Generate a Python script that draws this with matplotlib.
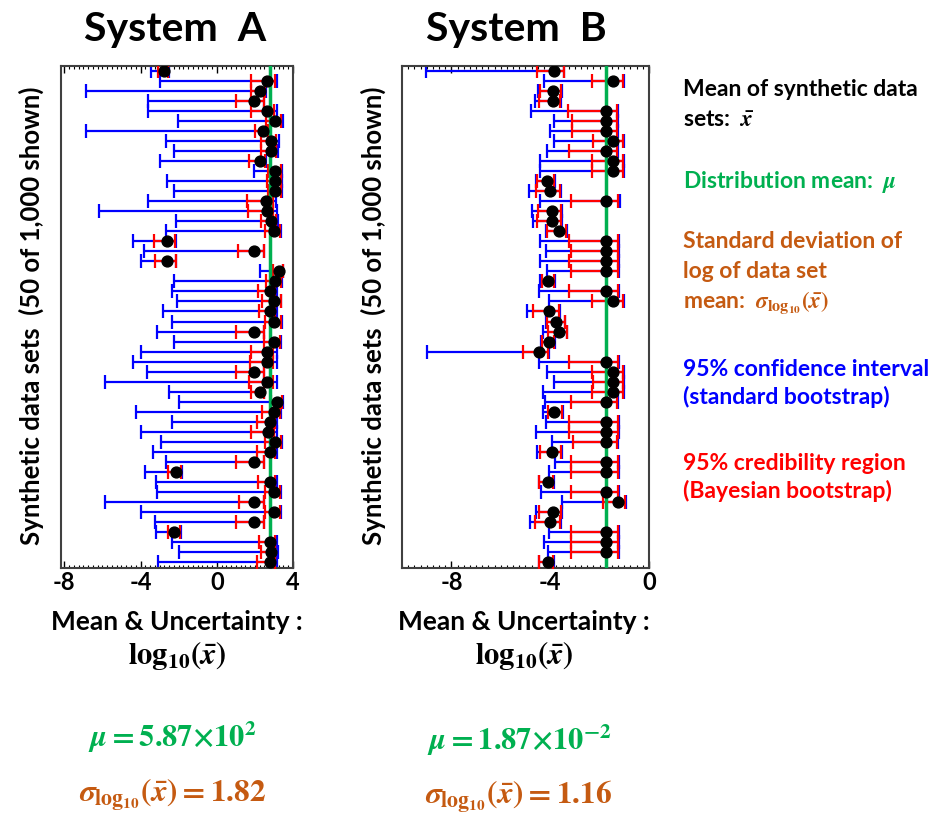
import numpy as np
import matplotlib
matplotlib.use("Agg")
import matplotlib.pyplot as plt
from matplotlib.ticker import MultipleLocator

plt.rcParams["font.family"] = ["Lato", "DejaVu Sans"]
plt.rcParams["font.weight"] = "bold"
plt.rcParams["axes.unicode_minus"] = False
plt.rcParams["mathtext.fontset"] = "custom"
plt.rcParams["mathtext.rm"] = "STIXGeneral:bold"
plt.rcParams["mathtext.it"] = "STIXGeneral:italic:bold"
plt.rcParams["mathtext.bf"] = "STIXGeneral:bold"

# System A: log10 of data set mean, 95% CI (standard bootstrap), 95% CR (Bayesian bootstrap)
a_mean = [-2.75, 2.65, 2.29, 1.95, 2.65, 3.03, 2.43, 2.83, 2.83, 2.29,
          3.07, 3.03, 3.03, 2.60, 2.65, 2.83, 2.98, -2.59, 1.95, -2.59,
          3.24, 3.03, 2.77, 2.98, 2.77, 3.00, 1.95, 3.00, 2.62, 2.62,
          1.95, 2.63, 2.27, 3.17, 2.98, 2.77, 2.69, 3.03, 2.77, 1.95,
          -2.14, 2.77, 3.00, 1.95, 2.98, 1.95, -2.23, 2.77, 2.83, 2.77]
a_ci_lo = [-3.44, -2.97, -6.86, -3.62, -3.62, -2.02, -6.86, -2.66, -2.24, -2.97,
           1.95, -2.63, -2.24, -3.62, -6.20, -2.16, -2.66, -4.37, -3.81, -3.98,
           2.29, -2.24, -2.33, -2.10, -2.80, -2.36, -3.15, -2.24, -3.97, -4.37,
           -3.67, -5.85, -2.49, -1.98, -4.23, -2.33, -3.97, -2.92, -3.32, -2.68,
           -3.79, -3.20, -3.15, -5.88, -3.98, -3.24, -3.20, -2.33, -1.98, -3.06]
a_ci_hi = [-2.50, 3.17, 2.58, 2.48, 3.16, 3.45, 2.71, 3.26, 3.21, 2.60,
           3.42, 3.42, 3.40, 3.12, 3.16, 3.21, 3.38, -2.14, 2.48, -2.14,
           3.50, 3.42, 3.17, 3.38, 3.17, 3.42, 2.48, 3.38, 3.16, 3.16,
           2.50, 3.16, 2.48, 3.47, 3.38, 3.17, 3.16, 3.43, 3.17, 2.48,
           -1.84, 3.17, 3.38, 2.48, 3.38, 2.48, -1.88, 3.17, 3.21, 3.17]
a_cr_lo = [-3.11, 1.82, 1.78, 1.00, 1.82, 2.60, 1.99, 2.34, 2.30, 1.69,
           2.69, 2.65, 2.69, 1.61, 1.64, 2.34, 2.55, -3.29, 1.12, -3.24,
           2.95, 2.60, 2.16, 2.37, 2.20, 2.51, 1.03, 2.48, 1.82, 1.76,
           1.00, 1.68, 1.78, 2.86, 2.37, 2.11, 1.82, 2.55, 2.11, 1.00,
           -2.54, 2.16, 2.51, 1.15, 2.55, 1.00, -2.57, 2.20, 2.30, 2.11]
a_cr_hi = [-2.54, 3.03, 2.55, 2.46, 3.00, 3.35, 2.69, 3.12, 3.12, 2.55,
           3.38, 3.38, 3.35, 2.95, 2.95, 3.09, 3.30, -2.19, 2.46, -2.16,
           3.47, 3.35, 3.07, 3.35, 3.03, 3.35, 2.46, 3.33, 2.95, 2.95,
           2.48, 2.95, 2.46, 3.43, 3.30, 3.03, 2.98, 3.35, 3.07, 2.46,
           -1.88, 3.03, 3.33, 2.46, 3.33, 2.46, -1.93, 3.03, 3.07, 3.07]

# System B
b_mean = [-3.83, -1.44, -3.90, -3.90, -1.75, -1.75, -1.75, -1.44, -1.75, -1.44,
          -1.44, -4.11, -4.00, -1.75, -3.91, -3.91, -3.63, -1.75, -1.75, -1.75,
          -1.75, -4.07, -1.75, -1.44, -4.03, -3.76, -3.63, -4.04, -4.45, -1.75,
          -1.44, -1.44, -1.44, -1.75, -3.84, -1.75, -1.75, -1.75, -3.91, -1.75,
          -1.75, -4.10, -1.75, -1.27, -3.90, -4.00, -1.75, -1.75, -1.75, -4.10]
b_ci_lo = [-9.02, -4.25, -4.50, -4.61, -4.77, -3.84, -4.00, -3.84, -4.14, -4.43,
           -4.41, -4.57, -4.85, -4.41, -4.74, -4.70, -4.18, -4.43, -4.18, -4.43,
           -4.14, -4.41, -4.47, -4.04, -4.95, -4.18, -4.30, -4.37, -8.99, -4.47,
           -4.14, -3.83, -4.31, -4.23, -4.30, -4.17, -4.58, -3.91, -4.54, -3.80,
           -4.03, -4.47, -4.38, -3.53, -4.57, -4.81, -4.04, -4.27, -4.10, -4.47]
b_ci_hi = [-3.44, -1.00, -3.53, -3.57, -1.24, -1.24, -1.24, -1.00, -1.24, -1.00,
           -1.00, -3.80, -3.57, -1.17, -3.53, -3.53, -3.33, -1.21, -1.21, -1.21,
           -1.21, -3.80, -1.21, -1.00, -3.60, -3.40, -3.30, -3.80, -4.03, -1.21,
           -1.00, -1.00, -1.00, -1.24, -3.50, -1.21, -1.21, -1.24, -3.53, -1.21,
           -1.21, -3.84, -1.21, -0.93, -3.53, -3.57, -1.21, -1.21, -1.21, -3.84]
b_cr_lo = [-4.54, -2.32, -4.41, -4.45, -3.26, -3.13, -3.10, -2.28, -3.22, -2.29,
           -2.29, -4.52, -4.58, -3.15, -4.50, -4.52, -4.14, -3.24, -3.15, -3.24,
           -3.15, -4.34, -3.24, -2.29, -4.68, -4.14, -4.10, -4.34, -5.12, -3.22,
           -2.29, -2.28, -2.29, -3.15, -4.10, -3.22, -3.22, -3.09, -4.41, -3.15,
           -3.15, -4.45, -3.15, -1.85, -4.47, -4.61, -3.15, -3.15, -3.15, -4.45]
b_cr_hi = [-3.46, -1.04, -3.57, -3.60, -1.31, -1.28, -1.28, -1.04, -1.28, -1.04,
           -1.04, -3.84, -3.60, -1.24, -3.57, -3.57, -3.36, -1.27, -1.27, -1.27,
           -1.27, -3.83, -1.27, -1.04, -3.64, -3.42, -3.33, -3.84, -4.07, -1.27,
           -1.04, -1.04, -1.04, -1.28, -3.53, -1.27, -1.27, -1.28, -3.57, -1.27,
           -1.27, -3.87, -1.27, -0.97, -3.57, -3.60, -1.27, -1.27, -1.27, -3.87]

mu_a, sd_a = 5.87e2, 1.82
mu_b, sd_b = 1.87e-2, 1.16

BLUE = "#0000ff"
RED = "#ff0000"
GREEN = "#00b050"
BROWN = "#c55a11"

W, H = 937, 823
fig = plt.figure(figsize=(W / 100, H / 100), dpi=100)


def rect(x0, y0, x1, y1):
    return [x0 / W, 1 - y1 / H, (x1 - x0) / W, (y1 - y0) / H]


def txt(x, y, s, **kw):
    fig.text(x / W, 1 - y / H, s, ha="center", va="center", **kw)


def panel(box, mean, ci_lo, ci_hi, cr_lo, cr_hi, mu, xlim, ticks):
    ax = fig.add_axes(rect(*box))
    mean = np.array(mean)
    y = np.arange(len(mean))
    ax.errorbar(mean, y, xerr=[mean - np.array(ci_lo), np.array(ci_hi) - mean],
                fmt="none", ecolor=BLUE, elinewidth=1.6, capsize=5, capthick=1.6, zorder=2)
    ax.errorbar(mean, y, xerr=[mean - np.array(cr_lo), np.array(cr_hi) - mean],
                fmt="none", ecolor=RED, elinewidth=1.6, capsize=5, capthick=1.6, zorder=3)
    ax.axvline(np.log10(mu), color=GREEN, lw=2.5, zorder=4)
    ax.plot(mean, y, "o", color="black", ms=7.8, zorder=5)
    ax.set_xlim(xlim)
    ax.set_ylim(len(mean) - 0.4, -0.5)
    ax.set_yticks([])
    ax.set_xticks(ticks)
    ax.set_xticklabels([str(t) for t in ticks])
    ax.xaxis.set_minor_locator(MultipleLocator(0.25))
    ax.tick_params(axis="x", which="major", direction="in", length=5, width=1,
                   top=True, labelsize=17, pad=2)
    ax.tick_params(axis="x", which="minor", direction="in", length=2.5, width=0.8, top=True)
    for lab in ax.get_xticklabels():
        lab.set_fontweight("bold")
    for sp in ax.spines.values():
        sp.set_linewidth(1.5)
        sp.set_color("#404040")
    return ax


panel((60.5, 66, 293, 568), a_mean, a_ci_lo, a_ci_hi, a_cr_lo, a_cr_hi, mu_a,
      (-8.2, 4.0), [-8, -4, 0, 4])
panel((402, 66, 649, 568), b_mean, b_ci_lo, b_ci_hi, b_cr_lo, b_cr_hi, mu_b,
      (-10, 0), [-8, -4, 0])

# titles and axis labels
txt(175, 30, "System  A", fontsize=29.5, fontweight="bold")
txt(516, 30, "System  B", fontsize=29.5, fontweight="bold")
ylab = "Synthetic data sets  (50 of 1,000 shown)"
txt(31, 316, ylab, fontsize=18.5, fontweight="bold", rotation=90)
txt(373, 316, ylab, fontsize=18.5, fontweight="bold", rotation=90)

for cx in (177, 524):
    txt(cx, 622, "Mean & Uncertainty :", fontsize=19, fontweight="bold")
    txt(cx, 656, r"$\mathrm{log}_{10}(\bar{x})$", fontsize=22)

txt(172, 737, r"$\mu = 5.87{\times}10^{2}$", fontsize=22, color=GREEN)
txt(519, 740, r"$\mu = 1.87{\times}10^{-2}$", fontsize=22, color=GREEN)
txt(173, 795, r"$\sigma_{\mathrm{log}_{10}}(\bar{x}) = %.2f$" % sd_a, fontsize=22.5, color=BROWN)
txt(519, 797, r"$\sigma_{\mathrm{log}_{10}}(\bar{x}) = %.2f$" % sd_b, fontsize=22.5, color=BROWN)

# legend text on the right
legend_lines = [
    (90, "Mean of synthetic data", "black"),
    (120, r"sets:  $\bar{x}$", "black"),
    (182, r"Distribution mean:  $\mu$", GREEN),
    (242, "Standard deviation of", BROWN),
    (271, "log of data set", BROWN),
    (303, r"mean:  $\sigma_{\mathrm{log}_{10}}(\bar{x})$", BROWN),
    (369, "95% confidence interval", BLUE),
    (397, "(standard bootstrap)", BLUE),
    (463, "95% credibility region", RED),
    (491, "(Bayesian bootstrap)", RED),
]
for yy, s, c in legend_lines:
    fig.text(683 / W, 1 - yy / H, s, ha="left", va="center", fontsize=16.5,
             fontweight="bold", color=c)

fig.savefig("out.png", dpi=100)
